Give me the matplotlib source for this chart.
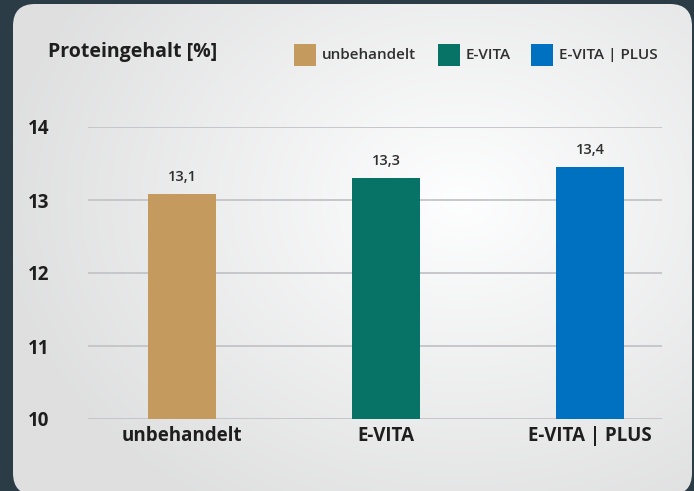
import numpy as np
import matplotlib.pyplot as plt
from matplotlib.patches import FancyBboxPatch, Rectangle

categories = ['unbehandelt', 'E-VITA', 'E-VITA | PLUS']
values = [13.08, 13.3, 13.45]
value_labels = ['13,1', '13,3', '13,4']
colors = ['#c49a5e', '#067366', '#0070c0']
yticks = [10, 11, 12, 13, 14]

W, H = 694, 491
fig = plt.figure(figsize=(W / 100, H / 100), dpi=100)
fig.patch.set_facecolor('#2b3c47')

plt.rcParams['font.family'] = ['Open Sans', 'DejaVu Sans']

# card with soft radial gradient
bg = fig.add_axes([0, 0, 1, 1])
bg.set_xlim(0, W)
bg.set_ylim(H, 0)
bg.axis('off')
yy, xx = np.mgrid[0:H, 0:W]
d = np.sqrt(((xx - 460) / 420.0) ** 2 + ((yy - 200) / 330.0) ** 2)
shade = np.clip(1.0 - 0.11 * d, 0.88, 1.0)
img = np.dstack([shade * 0.995, shade * 0.997, shade * 1.0, np.ones_like(shade)])
r = 22
card = FancyBboxPatch((13 + r, 4 + r), 679 - 2 * r, 491 - 2 * r,
                      boxstyle='round,pad=%d' % r, fc='none', ec='none')
bg.add_patch(card)
im = bg.imshow(img, extent=(0, W, H, 0), zorder=0)
im.set_clip_path(card)

# title and legend
fig.text(48 / W, 1 - 52 / H, 'Proteingehalt [%]', fontsize=14, fontweight='bold',
         color='#1e1e1e', va='center', ha='left')
leg_x = [294, 438, 531]
for lx, c, name in zip(leg_x, colors, categories):
    bg.add_patch(Rectangle((lx, 44), 22, 22, fc=c, ec='none', zorder=3))
    bg.text(lx + 28, 55, name, fontsize=11, fontweight='semibold', color='#2f2f2f',
            va='center', ha='left', zorder=3)

# chart axes
x0, x1 = 88, 662
y_top, y_bot = 127, 419
ax = fig.add_axes([x0 / W, 1 - y_bot / H, (x1 - x0) / W, (y_bot - y_top) / H])
ax.patch.set_alpha(0)
xs = np.arange(len(categories))
bars = ax.bar(xs, values, width=68 / 204, color=colors, zorder=3)
ax.set_xlim(-0.461, 2.353)
ax.set_ylim(10, 14)
ax.set_yticks(yticks)
ax.set_yticklabels([str(t) for t in yticks], fontsize=13.5, fontweight='bold', color='#1e1e1e')
ax.set_xticks(xs)
ax.set_xticklabels(categories, fontsize=13.5, fontweight='bold', color='#1e1e1e')
ax.tick_params(length=0)
ax.tick_params(axis='y', pad=28)
ax.tick_params(axis='x', pad=5)
ax.grid(axis='y', color='#c4c4c8', linewidth=1.3, zorder=0)
for s in ax.spines.values():
    s.set_visible(False)

for x, v, lab in zip(xs, values, value_labels):
    ax.annotate(lab, (x, v), xytext=(0, 7), textcoords='offset points', ha='center',
                va='bottom', fontsize=10.5, fontweight='semibold', color='#2f2f2f')

fig.savefig('out.png', dpi=100, facecolor=fig.get_facecolor())
